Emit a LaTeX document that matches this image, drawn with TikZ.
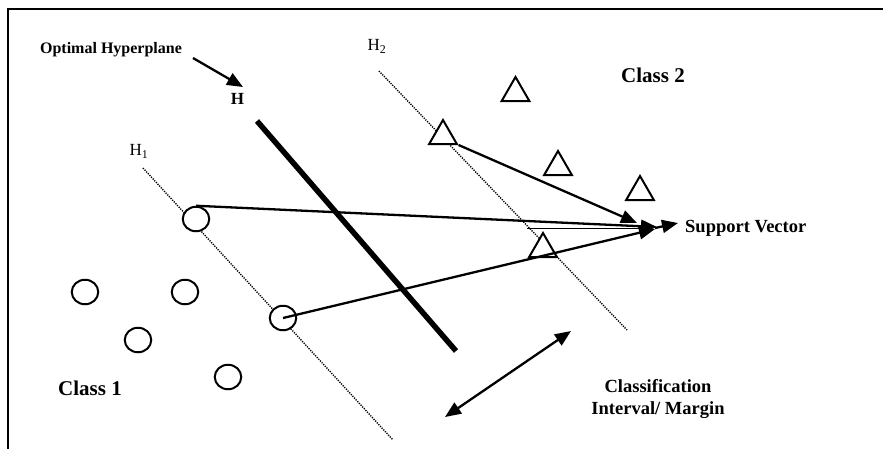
\documentclass[tikz,border=0pt]{standalone}
\usepackage{fontspec}
\setmainfont{Liberation Serif}
\usetikzlibrary{arrows.meta,shapes.geometric}
\begin{document}
\begin{tikzpicture}[x=1pt,y=-1pt,
  frame/.style={line width=2.4pt},
  dotline/.style={line width=1.4pt, dash pattern=on 1.2pt off 1.2pt},
  hyper/.style={line width=5.5pt},
  cls1/.style={draw, ellipse, fill=white, line width=2pt, minimum width=26.5pt, minimum height=24.5pt, inner sep=0pt},
  cls2/.style={draw, regular polygon, regular polygon sides=3, fill=white, line width=2pt, minimum size=32pt, inner sep=0pt},
  arr/.style={line width=2.3pt, -{Triangle[length=16pt,width=13pt]}},
  darr/.style={line width=2.3pt, {Triangle[length=16pt,width=13pt]}-{Triangle[length=16pt,width=13pt]}},
  biglbl/.style={font=\bfseries\fontsize{21}{24}\selectfont, inner sep=0pt, anchor=base},
  midlbl/.style={font=\bfseries\fontsize{18.5}{22}\selectfont, inner sep=0pt},
  smalllbl/.style={font=\bfseries\fontsize{16}{19}\selectfont, inner sep=0pt, anchor=base},
  hlbl/.style={font=\fontsize{17}{20}\selectfont, inner sep=0pt, anchor=base},
]
\useasboundingbox (0,0) rectangle (883,448);
% frame
\coordinate (f1) at (8,449);
\coordinate (f2) at (8,9);
\coordinate (f3) at (884,9);
\draw[frame] (f1) -- (f2) -- (f3);

% margins
\coordinate (h1a) at (143,168);
\coordinate (h1b) at (393,440);
\coordinate (h2a) at (379,71);
\coordinate (h2b) at (627,330);
\draw[dotline] (h1a) -- (h1b);
\draw[dotline] (h2a) -- (h2b);

% optimal hyperplane
\coordinate (ha) at (257,121);
\coordinate (hb) at (456,351);
\draw[hyper] (ha) -- (hb);

% class 1
\node[cls1] (c1) at (196,219) {};
\node[cls1] (c2) at (85,292) {};
\node[cls1] (c3) at (185,292) {};
\node[cls1] (c4) at (138,340) {};
\node[cls1] (c5) at (283,318) {};
\node[cls1] (c6) at (228,377) {};

% class 2
\node[cls2] (t1) at (515.5,93) {};
\node[cls2] (t2) at (443,136) {};
\node[cls2] (t3) at (558,167) {};
\node[cls2] (t4) at (640,192) {};
\node[cls2] (t5) at (543,249) {};

% labels
\node[smalllbl] (oh) at (111,53) {Optimal Hyperplane};
\node[font=\bfseries\fontsize{17}{20}\selectfont, inner sep=0pt, anchor=base] (hl) at (237.5,104.5) {H};
\node[hlbl] (h2l) at (377,50.5) {H\textsubscript{2}};
\node[hlbl] (h1l) at (139,155.5) {H\textsubscript{1}};
\node[biglbl] (cl2) at (653,82) {Class 2};
\node[biglbl] (cl1) at (90,395) {Class 1};
\node[midlbl, anchor=base west] (svl) at (685,232) {Support Vector};
\node[midlbl, align=center, anchor=north] (cil) at (658,379) {Classification\\Interval/ Margin};

% arrows
\coordinate (ohs) at (193,58);
\coordinate (oht) at (243,87);
\draw[arr] (ohs) -- (oht);

\coordinate (sv1) at (637,223);
\coordinate (sv2) at (657,227);
\coordinate (sv3) at (655,229);
\coordinate (dla) at (527,228.5);
\coordinate (dlb) at (648,228.5);
\coordinate (hub) at (655,228);
\coordinate (svt) at (678,223);
\draw[arr] (t2.corner 3) -- (sv1);
\draw[arr] (c1.north) -- (sv2);
\draw[arr] (c5.center) -- (sv3);
\draw[line width=1.8pt] (dla) -- (dlb);
\draw[arr] (hub) -- (svt);

\coordinate (m1) at (445,417);
\coordinate (m2) at (571,331);
\draw[darr] (m1) -- (m2);
\end{tikzpicture}
\end{document}
